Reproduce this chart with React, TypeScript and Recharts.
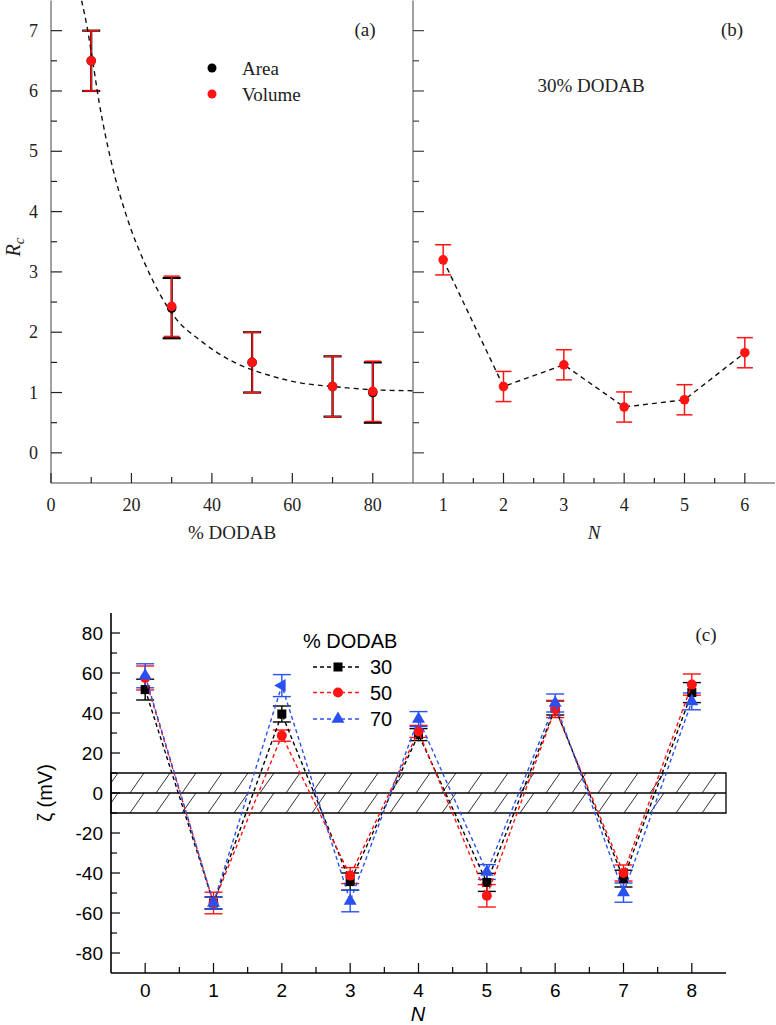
import React from 'react';
import { ScatterChart, Scatter, XAxis, YAxis, ErrorBar, ReferenceArea, ReferenceLine } from 'recharts';

const serif = '"Liberation Serif", "DejaVu Serif", serif';
const sans = '"Liberation Sans", Arial, sans-serif';

// (a) Rc vs % DODAB
const dodabPct = [10, 30, 50, 70, 80];
const areaRc = [6.5, 2.4, 1.5, 1.1, 1.0];
const volumeRc = [6.5, 2.43, 1.5, 1.1, 1.02];
const rcErr = [0.5, 0.5, 0.5, 0.5, 0.5];
const fitX = [7.6, 9, 10, 12, 15, 19, 23, 27, 31, 37, 45, 54, 62, 70, 82, 90];
const fitY = [7.5, 7.05, 6.65, 5.8, 4.82, 3.88, 3.19, 2.64, 2.23, 1.87, 1.52, 1.29, 1.16, 1.1, 1.04, 1.03];
const pctTicks = [0, 10, 20, 30, 40, 50, 60, 70, 80];
const rcTicks = [0, 0.5, 1, 1.5, 2, 2.5, 3, 3.5, 4, 4.5, 5, 5.5, 6, 6.5, 7];

// (b) Rc vs N, 30% DODAB
const layerN = [1, 2, 3, 4, 5, 6];
const rc30 = [3.2, 1.1, 1.46, 0.76, 0.88, 1.66];
const rc30Err = [0.25, 0.25, 0.25, 0.25, 0.25, 0.25];
const layerTicks = [1, 1.5, 2, 2.5, 3, 3.5, 4, 4.5, 5, 5.5, 6];

// (c) zeta potential vs N
const zetaN = [0, 1, 2, 3, 4, 5, 6, 7, 8];
const zeta30 = [51.7, -55, 39.5, -44.3, 29.2, -44.7, 42.5, -42.8, 50.2];
const zeta30Err = [5.2, 3, 4, 4.3, 3, 4.5, 3.5, 4.2, 5];
const zeta50 = [57.5, -55, 28.7, -41.3, 30.8, -51.4, 42, -40, 54.2];
const zeta50Err = [6, 5.4, 2.8, 4, 3, 5.6, 4.3, 4, 5.3];
const zeta70 = [58.6, -55, 53.7, -54, 37, -39.5, 45, -49.8, 45.8];
const zeta70Err = [6, 3, 5.5, 5.4, 3.7, 3.7, 4.5, 4.8, 4.2];
const nTicks = [0, 0.5, 1, 1.5, 2, 2.5, 3, 3.5, 4, 4.5, 5, 5.5, 6, 6.5, 7, 7.5, 8];
const zetaTicks = [-80, -70, -60, -50, -40, -30, -20, -10, 0, 10, 20, 30, 40, 50, 60, 70, 80];

const RED = '#ff1414';
const BLUE = '#2a50f2';

const pts = (xs: number[], ys: number[], es?: number[]) =>
  xs.map((x, i) => ({ x, y: ys[i], err: es ? es[i] : 0 }));

type Side = 'bottom' | 'top' | 'left' | 'right';
interface TickStyle {
  side: Side;
  majorEvery: number;
  majorLen: number;
  minorLen: number;
  label?: boolean;
  offset?: number;
  shift?: number;
  font?: string;
  size?: number;
  color: string;
}

function makeTick(s: TickStyle) {
  return (props: any) => {
    const { x, y, payload } = props;
    const v = payload.value;
    const q = v / s.majorEvery;
    const major = Math.abs(q - Math.round(q)) < 1e-6;
    const len = major ? s.majorLen : s.minorLen;
    let line;
    let text = null;
    if (s.side === 'bottom') {
      line = <line x1={x} y1={y} x2={x} y2={y - len} stroke={s.color} strokeWidth={1.2} />;
      if (s.label && major)
        text = (
          <text x={x} y={y + (s.offset || 0)} textAnchor="middle" fontFamily={s.font} fontSize={s.size} fill={s.color}>
            {String(v)}
          </text>
        );
    } else if (s.side === 'top') {
      line = <line x1={x} y1={y} x2={x} y2={y + len} stroke={s.color} strokeWidth={1.2} />;
    } else if (s.side === 'left') {
      line = <line x1={x} y1={y} x2={x + len} y2={y} stroke={s.color} strokeWidth={1.2} />;
      if (s.label && major)
        text = (
          <text x={x - (s.offset || 0)} y={y + (s.shift || 0)} textAnchor="end" fontFamily={s.font} fontSize={s.size} fill={s.color}>
            {String(v)}
          </text>
        );
    } else {
      line = <line x1={x} y1={y} x2={x - len} y2={y} stroke={s.color} strokeWidth={1.2} />;
    }
    return (
      <g>
        {line}
        {text}
      </g>
    );
  };
}

const dot = (color: string, r: number) => (p: any) => <circle cx={p.cx} cy={p.cy} r={r} fill={color} />;
const square = (color: string, s: number) => (p: any) => (
  <rect x={p.cx - s / 2} y={p.cy - s / 2} width={s} height={s} fill={color} />
);
const triangle = (color: string, s: number) => (p: any) => {
  const h = s * 0.87;
  const { cx, cy } = p;
  // one marker in the original is drawn pointing left
  const left = p.payload && p.payload.x === 2;
  const points = left
    ? `${cx - (2 * h) / 3},${cy} ${cx + h / 3},${cy - s / 2} ${cx + h / 3},${cy + s / 2}`
    : `${cx},${cy - (2 * h) / 3} ${cx - s / 2},${cy + h / 3} ${cx + s / 2},${cy + h / 3}`;
  return <polygon points={points} fill={color} />;
};
const none = () => <g />;

const AX_AB = '#444';

const PanelA = () => (
  <ScatterChart width={420} height={546} margin={{ top: 0.5, right: 7, bottom: 0, left: 0 }}>
    <XAxis xAxisId="b" dataKey="x" type="number" domain={[0, 90]} allowDataOverflow ticks={pctTicks} interval={0}
      height={63} tickSize={0} tickMargin={0} stroke={AX_AB}
      tick={makeTick({ side: 'bottom', majorEvery: 20, majorLen: 10, minorLen: 6, label: true, offset: 28, font: serif, size: 18, color: '#222' })} />
    <XAxis xAxisId="t" orientation="top" dataKey="x" type="number" domain={[0, 90]} allowDataOverflow ticks={pctTicks} interval={0}
      height={0} tickSize={0} tickMargin={0} stroke={AX_AB}
      tick={makeTick({ side: 'top', majorEvery: 20, majorLen: 10, minorLen: 10, color: AX_AB })} />
    <YAxis yAxisId="l" dataKey="y" type="number" domain={[-0.5, 7.5]} allowDataOverflow ticks={rcTicks} interval={0}
      width={51} tickSize={0} tickMargin={0} stroke={AX_AB}
      tick={makeTick({ side: 'left', majorEvery: 1, majorLen: 11, minorLen: 6, label: true, offset: 13, shift: 6, font: serif, size: 18, color: '#222' })} />
    <YAxis yAxisId="r" orientation="right" dataKey="y" type="number" domain={[-0.5, 7.5]} allowDataOverflow ticks={rcTicks} interval={0}
      width={0} tickSize={0} tickMargin={0} stroke={AX_AB}
      tick={makeTick({ side: 'right', majorEvery: 1, majorLen: 11, minorLen: 6, color: AX_AB })} />
    <Scatter xAxisId="b" yAxisId="l" data={pts(fitX, fitY)} shape={none} lineJointType="monotoneX"
      line={{ stroke: '#111', strokeWidth: 1.4, strokeDasharray: '5 4' }} isAnimationActive={false} />
    <Scatter xAxisId="b" yAxisId="l" data={pts(dodabPct, areaRc, rcErr)} shape={dot('#000', 4.8)} isAnimationActive={false}>
      <ErrorBar dataKey="err" direction="y" width={9} stroke="#000" strokeWidth={2.2} />
    </Scatter>
    <Scatter xAxisId="b" yAxisId="l" data={pts(dodabPct, volumeRc, rcErr)} shape={dot(RED, 4.8)} isAnimationActive={false}>
      <ErrorBar dataKey="err" direction="y" width={8} stroke={RED} strokeWidth={1.5} />
    </Scatter>
  </ScatterChart>
);

const PanelB = () => (
  <ScatterChart width={376} height={546} margin={{ top: 0.5, right: 1, bottom: 0, left: 0 }}>
    <XAxis xAxisId="b" dataKey="x" type="number" domain={[0.5, 6.5]} allowDataOverflow ticks={layerTicks} interval={0}
      height={63} tickSize={0} tickMargin={0} stroke={AX_AB}
      tick={makeTick({ side: 'bottom', majorEvery: 1, majorLen: 10, minorLen: 5, label: true, offset: 28, font: serif, size: 18, color: '#222' })} />
    <XAxis xAxisId="t" orientation="top" dataKey="x" type="number" domain={[0.5, 6.5]} allowDataOverflow ticks={layerTicks} interval={0}
      height={0} tickSize={0} tickMargin={0} stroke={AX_AB}
      tick={makeTick({ side: 'top', majorEvery: 1, majorLen: 10, minorLen: 5, color: AX_AB })} />
    <YAxis yAxisId="l" dataKey="y" type="number" domain={[-0.5, 7.5]} allowDataOverflow ticks={rcTicks} interval={0}
      width={13} tickSize={0} tickMargin={0} stroke={AX_AB}
      tick={makeTick({ side: 'left', majorEvery: 1, majorLen: 11, minorLen: 6, color: AX_AB })} />
    <YAxis yAxisId="r" orientation="right" dataKey="y" type="number" domain={[-0.5, 7.5]} allowDataOverflow ticks={rcTicks} interval={0}
      width={0} tickSize={0} tickMargin={0} stroke={AX_AB}
      tick={makeTick({ side: 'right', majorEvery: 1, majorLen: 10, minorLen: 5, color: AX_AB })} />
    <Scatter xAxisId="b" yAxisId="l" data={pts(layerN, rc30, rc30Err)} shape={dot(RED, 4.8)}
      line={{ stroke: '#111', strokeWidth: 1.4, strokeDasharray: '5 4' }} isAnimationActive={false}>
      <ErrorBar dataKey="err" direction="y" width={8} stroke={RED} strokeWidth={1.5} />
    </Scatter>
  </ScatterChart>
);

const PanelC = () => (
  <ScatterChart width={776} height={425} margin={{ top: 13, right: 50, bottom: 0, left: 0 }}>
    <XAxis xAxisId="b" dataKey="x" type="number" domain={[-0.5, 8.5]} allowDataOverflow ticks={nTicks} interval={0}
      height={52} tickSize={0} tickMargin={0} stroke="#000" strokeWidth={1.6}
      tick={makeTick({ side: 'bottom', majorEvery: 1, majorLen: 10, minorLen: 6, label: true, offset: 24, font: sans, size: 19, color: '#000' })} />
    <XAxis xAxisId="t" orientation="top" dataKey="x" type="number" domain={[-0.5, 8.5]} allowDataOverflow ticks={nTicks} interval={0}
      height={0} tickSize={0} tickMargin={0} stroke="#000" strokeWidth={1.6}
      tick={makeTick({ side: 'top', majorEvery: 1, majorLen: 10, minorLen: 9, color: '#000' })} />
    <YAxis yAxisId="l" dataKey="y" type="number" domain={[-90, 90]} allowDataOverflow ticks={zetaTicks} interval={0}
      width={111} tickSize={0} tickMargin={0} stroke="#000" strokeWidth={1.6}
      tick={makeTick({ side: 'left', majorEvery: 20, majorLen: 9, minorLen: 6, label: true, offset: 8, shift: 7, font: sans, size: 19, color: '#000' })} />
    <YAxis yAxisId="r" orientation="right" dataKey="y" type="number" domain={[-90, 90]} allowDataOverflow ticks={zetaTicks} interval={0}
      width={0} tickSize={0} tickMargin={0} stroke="#000" strokeWidth={1.6}
      tick={makeTick({ side: 'right', majorEvery: 10, majorLen: 9, minorLen: 9, color: '#000' })} />
    <ReferenceArea xAxisId="b" yAxisId="l" y1={-10} y2={10} fill="url(#hatchBand)" fillOpacity={1} stroke="#000" strokeWidth={1.3} />
    <ReferenceLine xAxisId="b" yAxisId="l" y={0} stroke="#000" strokeWidth={1.3} />
    <Scatter xAxisId="b" yAxisId="l" data={pts(zetaN, zeta30, zeta30Err)} shape={square('#000', 9)}
      line={{ stroke: '#000', strokeWidth: 1.4, strokeDasharray: '4 3' }} isAnimationActive={false}>
      <ErrorBar dataKey="err" direction="y" width={9} stroke="#000" strokeWidth={1.4} />
    </Scatter>
    <Scatter xAxisId="b" yAxisId="l" data={pts(zetaN, zeta50, zeta50Err)} shape={dot(RED, 5)}
      line={{ stroke: RED, strokeWidth: 1.4, strokeDasharray: '4 3' }} isAnimationActive={false}>
      <ErrorBar dataKey="err" direction="y" width={9} stroke={RED} strokeWidth={1.4} />
    </Scatter>
    <Scatter xAxisId="b" yAxisId="l" data={pts(zetaN, zeta70, zeta70Err)} shape={triangle(BLUE, 13)}
      line={{ stroke: BLUE, strokeWidth: 1.4, strokeDasharray: '4 3' }} isAnimationActive={false}>
      <ErrorBar dataKey="err" direction="y" width={9} stroke={BLUE} strokeWidth={1.4} />
    </Scatter>
  </ScatterChart>
);

const legendC = [
  { label: '30', color: '#000', y: 667 },
  { label: '50', color: RED, y: 692.5 },
  { label: '70', color: BLUE, y: 719 },
];

const Overlay = () => (
  <svg width={776} height={1025} style={{ position: 'absolute', left: 0, top: 0, pointerEvents: 'none' }}>
    <defs>
      <pattern id="hatchBand" patternUnits="userSpaceOnUse" x={0} y={173} width={26} height={20}>
        <line x1={0} y1={20} x2={14} y2={0} stroke="#000" strokeWidth={0.8} />
      </pattern>
    </defs>
    {/* (a) and (b) */}
    <g fontFamily={serif} fill="#222" fontSize={19}>
      <text x={365} y={36} textAnchor="middle">(a)</text>
      <text x={732} y={36} textAnchor="middle">(b)</text>
      <circle cx={212} cy={68} r={4.5} fill="#000" />
      <text x={242} y={74.5}>Area</text>
      <circle cx={212} cy={94} r={4.5} fill={RED} />
      <text x={242} y={100.5}>Volume</text>
      <text x={591} y={91.5} textAnchor="middle">30% DODAB</text>
      <text x={232} y={539} textAnchor="middle">% DODAB</text>
      <text x={594} y={539} textAnchor="middle" fontStyle="italic">N</text>
      <text transform="translate(20,247) rotate(-90)" textAnchor="middle" fontStyle="italic" fontSize={20}>
        R<tspan fontSize={15} dy={4}>c</tspan>
      </text>
    </g>
    {/* (c) */}
    <g fontFamily={sans} fill="#000" fontSize={20}>
      <text x={303} y={648}>% DODAB</text>
      {legendC.map((l, i) => (
        <g key={l.label}>
          <line x1={313} y1={l.y} x2={362} y2={l.y} stroke={l.color} strokeWidth={1.4} strokeDasharray="4 3" />
          {i === 0 && <rect x={333.5} y={l.y - 4.5} width={9} height={9} fill={l.color} />}
          {i === 1 && <circle cx={338} cy={l.y} r={5} fill={l.color} />}
          {i === 2 && <polygon points={`338,${l.y - 7.5} 331.5,${l.y + 3.8} 344.5,${l.y + 3.8}`} fill={l.color} />}
          <text x={370} y={l.y + 7}>{l.label}</text>
        </g>
      ))}
      <text transform="translate(52,793) rotate(-90)" textAnchor="middle">ζ (mV)</text>
      <text x={418} y={1021} textAnchor="middle" fontStyle="italic">N</text>
    </g>
    <text x={706} y={641} textAnchor="middle" fontFamily={serif} fontSize={19} fill="#222">(c)</text>
  </svg>
);

export default function App() {
  return (
    <div style={{ position: 'absolute', left: 0, top: 0, width: 776, height: 1025, background: '#fff' }}>
      <div style={{ position: 'absolute', left: 0, top: 0 }}>
        <PanelA />
      </div>
      <div style={{ position: 'absolute', left: 400, top: 0 }}>
        <PanelB />
      </div>
      <div style={{ position: 'absolute', left: 0, top: 600 }}>
        <PanelC />
      </div>
      <Overlay />
    </div>
  );
}
